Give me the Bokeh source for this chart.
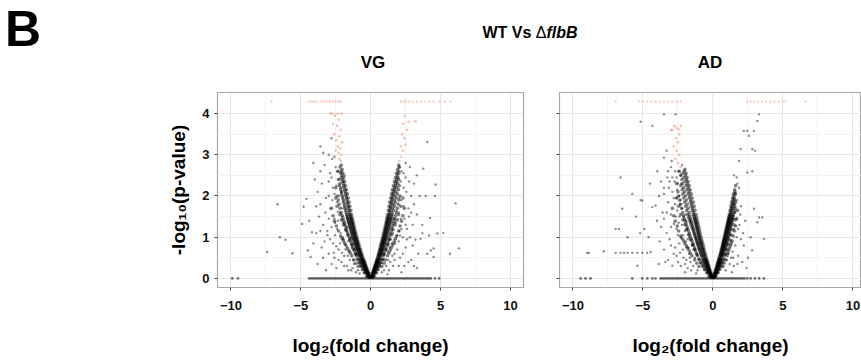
from bokeh.plotting import figure
from bokeh.models import Range1d, FixedTicker, Div
from bokeh.layouts import column, row
from bokeh.embed import file_html
from bokeh.resources import INLINE

# ---------------- data ----------------
x_ticks = [-10, -5, 0, 5, 10]
x_minor = [-7.5, -2.5, 2.5, 7.5]
y_ticks = [0, 1, 2, 3, 4]
y_minor = [0.5, 1.5, 2.5, 3.5]
cap_y = 4.29  # capped -log10(p) row at the top

# VG: dense arms of the volcano, rows of (y, x values)
vg_core = [
    (0.03, [-0.04, -0.08, -0.13, 0.04, 0.07, 0.11]),
    (0.07, [-0.08, -0.13, -0.19, 0.07, 0.12, 0.17]),
    (0.11, [-0.13, -0.18, -0.25, 0.11, 0.16, 0.22]),
    (0.15, [-0.17, -0.23, -0.31, -0.42, 0.15, 0.2, 0.27, 0.38]),
    (0.19, [-0.22, -0.28, -0.36, 0.19, 0.24, 0.31]),
    (0.23, [-0.26, -0.32, -0.41, -0.55, 0.22, 0.28, 0.36, 0.5]),
    (0.27, [-0.31, -0.37, -0.46, 0.26, 0.32, 0.4]),
    (0.31, [-0.35, -0.42, -0.51, -0.7, 0.3, 0.36, 0.45, 0.62]),
    (0.35, [-0.39, -0.46, -0.56, 0.34, 0.4, 0.49]),
    (0.39, [-0.43, -0.5, -0.61, -0.8, 0.38, 0.44, 0.54, 0.72]),
    (0.43, [-0.47, -0.55, -0.66, 0.41, 0.48, 0.58]),
    (0.47, [-0.52, -0.6, -0.72, -0.95, 0.45, 0.52, 0.63, 0.85]),
    (0.52, [-0.57, -0.65, -0.77, 0.49, 0.56, 0.67]),
    (0.58, [-0.62, -0.7, -0.83, -1.05, 0.54, 0.61, 0.73, 0.95]),
    (0.64, [-0.68, -0.76, -0.9, 0.58, 0.66, 0.79]),
    (0.70, [-0.73, -0.82, -0.96, -1.2, 0.63, 0.71, 0.84, 1.1]),
    (0.76, [-0.79, -0.88, -1.02, 0.68, 0.76, 0.9]),
    (0.82, [-0.84, -0.93, -1.08, -1.35, 0.72, 0.8, 0.95, 1.25]),
    (0.88, [-0.89, -0.98, -1.14, 0.77, 0.85, 1.0]),
    (0.94, [-0.94, -1.03, -1.2, -1.5, 0.81, 0.9, 1.06, 1.35]),
    (1.00, [-0.99, -1.08, -1.26, 0.86, 0.95, 1.12]),
    (1.06, [-1.04, -1.13, -1.3, -1.65, 0.9, 0.99, 1.17, 1.5]),
    (1.12, [-1.08, -1.18, -1.36, 0.94, 1.04, 1.22]),
    (1.18, [-1.13, -1.23, -1.42, -1.8, 0.98, 1.08, 1.28, 1.6]),
    (1.24, [-1.17, -1.27, -1.47, 1.02, 1.12, 1.32]),
    (1.30, [-1.21, -1.32, -1.52, -1.95, 1.06, 1.16, 1.37, 1.75]),
    (1.36, [-1.25, -1.36, -1.57, 1.1, 1.2, 1.42]),
    (1.42, [-1.29, -1.4, -1.62, -2.1, 1.13, 1.24, 1.47, 1.9]),
    (1.48, [-1.33, -1.44, -1.67, 1.17, 1.28, 1.51]),
    (1.55, [-1.37, -1.5, -1.72, -2.2, 1.21, 1.33, 1.56, 2.0]),
    (1.65, [-1.43, -1.56, -1.8, 1.26, 1.38, 1.62]),
    (1.75, [-1.49, -1.62, -1.88, -2.4, 1.31, 1.44, 1.7, 2.15]),
    (1.85, [-1.55, -1.68, -1.95, 1.36, 1.5, 1.76]),
    (1.95, [-1.61, -1.74, -2.02, -2.5, 1.42, 1.56, 1.83, 2.3]),
    (2.05, [-1.67, -1.8, -2.1, 1.48, 1.62, 1.9]),
    (2.15, [-1.73, -1.87, -2.15, 1.55, 1.7, 1.98]),
    (2.25, [-1.8, -1.95, -2.25, 1.62, 1.78, 2.05]),
    (2.35, [-1.87, -2.02, 1.7, 1.86]),
    (2.45, [-1.93, -2.1, 1.77, 1.95]),
    (2.55, [-1.99, -2.15, 1.85, 2.02]),
    (2.65, [-2.05, 1.93]),
    (2.75, [-2.1, 2.0]),
]
# VG: outer part of the dense band, rows of (y, x values)
vg_band = [
    (0.05, [-0.1, -0.2, -0.3, 0.09, 0.17, 0.26]),
    (0.13, [-0.2, -0.3, -0.45, 0.18, 0.27, 0.4]),
    (0.21, [-0.3, -0.42, -0.6, 0.26, 0.36, 0.52]),
    (0.29, [-0.4, -0.52, -0.68, -0.9, 0.35, 0.45, 0.6, 0.8]),
    (0.37, [-0.5, -0.62, -0.8, -1.05, 0.44, 0.54, 0.7, 0.95]),
    (0.45, [-0.6, -0.72, -0.9, -1.2, 0.52, 0.62, 0.8, 1.05]),
    (0.55, [-0.7, -0.84, -1.02, -1.35, 0.6, 0.72, 0.9, 1.2]),
    (0.61, [-0.75, -0.9, -1.1, -1.45, 0.65, 0.78, 0.96, 1.3]),
    (0.67, [-0.82, -0.97, -1.18, -1.55, 0.7, 0.83, 1.02, 1.38]),
    (0.73, [-0.88, -1.03, -1.25, -1.65, 0.75, 0.88, 1.08, 1.45]),
    (0.79, [-0.93, -1.1, -1.32, -1.75, 0.8, 0.93, 1.14, 1.55]),
    (0.85, [-0.98, -1.15, -1.38, -1.85, 0.84, 0.98, 1.2, 1.62]),
    (0.91, [-1.03, -1.2, -1.45, -1.95, 0.88, 1.02, 1.25, 1.7]),
    (0.97, [-1.08, -1.26, -1.5, -2.05, 0.93, 1.07, 1.3, 1.78]),
    (1.03, [-1.13, -1.31, -1.57, -2.15, 0.97, 1.12, 1.36, 1.85]),
    (1.09, [-1.18, -1.36, -1.63, 1.01, 1.16, 1.42]),
    (1.15, [-1.22, -1.41, -1.7, -2.3, 1.05, 1.2, 1.47, 2.0]),
    (1.21, [-1.27, -1.46, -1.75, 1.09, 1.25, 1.52]),
    (1.27, [-1.31, -1.5, -1.8, -2.45, 1.13, 1.29, 1.57, 2.1]),
    (1.33, [-1.35, -1.55, -1.86, 1.17, 1.33, 1.62]),
    (1.39, [-1.39, -1.6, -1.92, -2.6, 1.21, 1.37, 1.67, 2.2]),
    (1.45, [-1.43, -1.64, -1.97, 1.25, 1.41, 1.72]),
    (1.52, [-1.48, -1.7, -2.03, -2.7, 1.3, 1.46, 1.78, 2.3]),
    (1.60, [-1.52, -1.75, -2.1, 1.34, 1.5, 1.83]),
    (1.70, [-1.58, -1.82, -2.18, -2.8, 1.39, 1.56, 1.9, 2.4]),
    (1.80, [-1.64, -1.88, -2.25, 1.45, 1.62, 1.96]),
    (1.90, [-1.7, -1.95, -2.32, 1.5, 1.68, 2.02]),
    (2.00, [-1.76, -2.0, -2.4, 1.56, 1.74, 2.1]),
    (2.10, [-1.82, -2.07, 1.62, 1.8]),
    (2.20, [-1.88, -2.13, -2.5, 1.69, 1.87]),
    (2.30, [-1.94, -2.2, 1.76, 1.93]),
    (2.40, [-2.0, -2.25, 1.83, 2.0]),
    (2.50, [-2.05, 1.9]),
    (2.60, [-2.1, -2.35, 1.97]),
    (2.70, [-2.2, 2.05]),
]
# VG: scattered black points (x, y)
vg_halo = [
    (-0.9, 0.2), (-1.2, 0.35), (-0.8, 0.12), (-1.5, 0.45), (-1.1, 0.6), (-1.9, 0.55),
    (-1.35, 0.75), (-2.3, 0.7), (-1.6, 0.9), (-2.0, 1.0), (-2.7, 0.85), (-1.75, 1.15),
    (-2.4, 1.2), (-3.1, 1.05), (-1.95, 1.35), (-2.6, 1.45), (-3.4, 1.3), (-2.2, 1.6),
    (-2.9, 1.7), (-3.7, 1.5), (-2.4, 1.85), (-3.2, 1.95), (-2.1, 2.1), (-2.7, 2.2),
    (-3.5, 2.3), (-2.35, 2.4), (-2.9, 2.55), (-2.5, 2.7), (-3.3, 2.75), (-1.3, 0.25),
    (-1.7, 0.3), (-2.1, 0.4), (-2.6, 0.5), (-3.0, 0.6), (-3.5, 0.75), (-1.4, 1.0),
    (-1.8, 0.7), (-2.2, 0.85), (-3.9, 1.1), (-4.2, 1.12), (-4.3, 0.52), (-4.5, 0.68),
    (-4.6, 1.93), (-3.8, 0.35), (-2.8, 1.25), (-3.6, 1.8), (-4.0, 2.4), (-3.0, 2.0),
    (-2.55, 1.05), (-1.65, 0.55), (-2.0, 1.7), (-2.45, 0.25), (-3.2, 0.2), (-1.85, 2.5),
    (-3.0, 3.0), (-3.6, 3.2), (-2.8, 3.4), (-4.1, 2.8), (-2.6, 2.95),
    (-1.05, 0.15), (-1.4, 0.2), (-1.9, 0.3), (-2.3, 0.45), (-2.8, 0.35), (-1.25, 0.45),
    (-1.55, 0.65), (-2.05, 0.62), (-2.45, 0.78), (-2.9, 0.95), (-3.3, 0.9), (-1.85, 0.82),
    (-1.7, 1.25), (-2.15, 1.1), (-2.55, 1.35), (-3.0, 1.45), (-3.6, 1.15), (-2.05, 1.5),
    (-2.35, 1.62), (-2.75, 1.9), (-3.25, 1.6), (-3.9, 1.75), (-2.25, 2.0), (-2.6, 2.05),
    (-3.0, 2.35), (-2.45, 2.25), (-2.8, 2.45), (-3.6, 2.6), (-2.35, 2.6), (-2.75, 2.9),
    (-3.4, 3.05), (-3.1, 1.15), (-4.1, 0.85), (-3.4, 0.5), (-2.65, 0.62), (-1.95, 0.95),
    (-2.35, 1.4), (-3.8, 2.1), (-1.6, 0.2), (-4.4, 1.4),
    (-6.67, 1.8), (-6.5, 1.0), (-6.1, 0.94), (-7.4, 0.64), (-5.6, 0.61), (-4.8, 1.74),
    (-4.9, 1.32),
    (0.8, 0.15), (1.1, 0.3), (0.9, 0.45), (1.4, 0.4), (1.2, 0.65), (1.7, 0.6),
    (2.1, 0.5), (1.5, 0.85), (2.0, 0.9), (2.5, 0.75), (1.6, 1.1), (2.2, 1.2),
    (2.8, 1.0), (1.8, 1.35), (2.4, 1.45), (3.0, 1.3), (2.0, 1.6), (2.7, 1.7),
    (3.3, 1.55), (2.2, 1.9), (2.9, 2.0), (2.35, 2.2), (3.1, 2.3), (2.5, 2.45),
    (2.2, 2.6), (2.8, 2.7), (1.3, 0.2), (1.6, 0.3), (2.4, 0.3), (3.1, 0.3),
    (2.9, 0.45), (1.9, 1.05), (2.1, 1.04), (3.2, 0.94), (3.57, 0.96), (4.17, 1.04),
    (0.95, 0.2), (1.25, 0.45), (1.55, 0.55), (1.9, 0.7), (2.3, 0.6), (1.35, 0.75),
    (1.75, 0.85), (2.3, 1.0), (1.45, 0.95), (2.05, 1.15), (2.5, 1.3), (1.65, 1.45),
    (2.15, 1.45), (2.75, 1.5), (1.85, 1.65), (2.35, 1.75), (3.1, 1.8), (2.05, 1.95),
    (2.55, 2.1), (2.15, 2.35), (2.75, 2.35), (2.35, 2.55), (2.5, 2.8), (3.3, 2.5),
    (2.7, 0.4), (2.0, 0.3), (3.4, 0.6), (3.7, 1.1), (2.6, 0.95), (3.0, 0.8),
    (1.7, 0.45), (2.9, 1.6), (3.5, 2.0), (2.2, 0.15), (1.2, 0.1), (2.05, 2.7),
    (4.3, 0.68), (4.5, 0.52), (4.64, 2.28), (6.07, 1.82), (4.6, 2.0), (3.93, 2.0),
    (4.24, 1.47), (4.76, 1.09), (5.19, 1.1), (6.31, 0.73), (5.67, 0.6), (4.5, 0.73),
    (4.05, 0.6), (3.69, 1.3), (3.76, 2.66), (4.05, 3.31), (3.3, 0.25), (2.6, 1.2),
]
# VG: red (significant) points (x, y)
vg_red = [
    (-2.15, 2.85), (-2.25, 2.9), (-2.1, 3.0), (-2.3, 3.05), (-2.2, 3.15), (-2.35, 3.2),
    (-2.05, 3.3), (-2.45, 3.35), (-2.25, 3.45), (-2.6, 3.5), (-2.15, 3.6), (-2.4, 3.7),
    (-2.7, 3.75), (-2.3, 3.85), (-2.55, 3.95), (-2.35, 4.0), (-2.75, 4.0), (-2.9, 4.0),
    (-2.1, 4.0), (-2.5, 3.1),
    (2.05, 2.85), (2.2, 2.95), (2.3, 3.1), (2.15, 3.2), (2.5, 3.25), (2.4, 3.4),
    (2.25, 3.5), (2.6, 3.6), (2.35, 3.75), (2.7, 3.8), (3.2, 3.81), (2.45, 3.95),
]
vg_cap_x = [-7.1, -4.4, -4.2, -4.0, -3.8, -3.5, -3.3, -3.1, -2.9, -2.7, -2.5, -2.3, -2.15,
            2.15, 2.35, 2.5, 2.75, 3.0, 3.3, 3.6, 3.9, 4.2, 4.5, 4.9, 5.3, 5.7]
vg_zero_x = [-9.9, -9.5, -4.4, -4.25, -4.1, -3.95, -3.8, -3.65, -3.5, -3.35, -3.2, -3.05,
             -2.9, -2.75, -2.6, -2.45, -2.3, -2.15, -2.0, -1.85, -1.7, -1.55, -1.4, -1.25,
             -1.1, -0.95, -0.8, -0.65, -0.5, -0.35, -0.2, -0.05, 0.1, 0.25, 0.4, 0.55, 0.7,
             0.85, 1.0, 1.15, 1.3, 1.45, 1.6, 1.75, 1.9, 2.05, 2.2, 2.35, 2.5, 2.65, 2.8,
             2.95, 3.1, 3.25, 3.4, 3.55, 3.7, 3.85, 4.0, 4.15, 4.3, 4.6, 4.9]

# AD
ad_core = [
    (0.03, [-0.04, -0.08, -0.12, 0.04, 0.07, 0.1]),
    (0.07, [-0.08, -0.13, -0.18, 0.07, 0.11, 0.15]),
    (0.11, [-0.12, -0.17, -0.24, 0.1, 0.15, 0.2]),
    (0.15, [-0.16, -0.22, -0.3, -0.42, 0.14, 0.19, 0.25, 0.35]),
    (0.19, [-0.2, -0.26, -0.35, 0.17, 0.22, 0.3]),
    (0.23, [-0.24, -0.3, -0.4, -0.58, 0.21, 0.26, 0.34, 0.48]),
    (0.27, [-0.27, -0.34, -0.45, 0.24, 0.3, 0.38]),
    (0.31, [-0.31, -0.38, -0.5, -0.72, 0.28, 0.34, 0.42, 0.58]),
    (0.35, [-0.34, -0.42, -0.55, 0.31, 0.37, 0.46]),
    (0.39, [-0.38, -0.46, -0.6, -0.85, 0.35, 0.41, 0.5, 0.68]),
    (0.43, [-0.41, -0.5, -0.65, 0.38, 0.44, 0.54]),
    (0.47, [-0.45, -0.54, -0.7, -1.0, 0.41, 0.48, 0.58, 0.78]),
    (0.52, [-0.49, -0.59, -0.76, 0.45, 0.52, 0.63]),
    (0.58, [-0.53, -0.64, -0.82, -1.15, 0.5, 0.57, 0.68, 0.88]),
    (0.64, [-0.58, -0.69, -0.88, 0.55, 0.62, 0.73]),
    (0.70, [-0.62, -0.74, -0.95, -1.3, 0.59, 0.67, 0.79, 1.0]),
    (0.76, [-0.67, -0.79, -1.01, 0.64, 0.72, 0.84]),
    (0.82, [-0.71, -0.84, -1.07, -1.45, 0.68, 0.76, 0.89, 1.1]),
    (0.88, [-0.76, -0.89, -1.13, 0.72, 0.8, 0.94]),
    (0.94, [-0.8, -0.94, -1.2, -1.6, 0.76, 0.85, 0.99, 1.2]),
    (1.00, [-0.85, -0.99, -1.26, 0.8, 0.89, 1.04]),
    (1.06, [-0.89, -1.04, -1.32, -1.75, 0.84, 0.93, 1.08, 1.3]),
    (1.12, [-0.93, -1.08, -1.38, 0.88, 0.97, 1.12]),
    (1.18, [-0.97, -1.13, -1.44, -1.9, 0.92, 1.01, 1.17, 1.4]),
    (1.24, [-1.01, -1.17, -1.5, 0.96, 1.05, 1.21]),
    (1.30, [-1.05, -1.22, -1.56, -2.0, 1.0, 1.09, 1.26, 1.5]),
    (1.36, [-1.09, -1.26, -1.62, 1.04, 1.13, 1.3]),
    (1.42, [-1.13, -1.3, -1.68, -2.15, 1.08, 1.17, 1.35, 1.6]),
    (1.48, [-1.17, -1.35, -1.74, 1.12, 1.21, 1.39]),
    (1.55, [-1.21, -1.4, -1.8, -2.3, 1.16, 1.26, 1.44]),
    (1.65, [-1.28, -1.48, -1.88, 1.22, 1.32, 1.5, 1.75]),
    (1.75, [-1.34, -1.55, -1.95, -2.45, 1.28, 1.38, 1.56]),
    (1.85, [-1.41, -1.62, -2.02, 1.34, 1.44, 1.62]),
    (1.95, [-1.48, -1.7, -2.1, -2.6, 1.4, 1.52]),
    (2.05, [-1.55, -1.78, -2.15, 1.46, 1.6]),
    (2.15, [-1.62, -1.85, -2.2, 1.55]),
    (2.25, [-1.7, -1.92, -2.3, 1.62]),
    (2.35, [-1.78, -2.0]),
    (2.45, [-1.85, -2.08]),
    (2.55, [-1.92, -2.15]),
    (2.65, [-2.0]),
]
ad_band = [
    (0.05, [-0.1, -0.19, -0.3, 0.08, 0.15, 0.22]),
    (0.13, [-0.19, -0.29, -0.44, 0.16, 0.24, 0.34]),
    (0.21, [-0.29, -0.41, -0.6, 0.24, 0.33, 0.45]),
    (0.29, [-0.38, -0.52, -0.72, -1.0, 0.32, 0.41, 0.55, 0.72]),
    (0.37, [-0.47, -0.62, -0.85, -1.15, 0.39, 0.48, 0.62, 0.8]),
    (0.45, [-0.55, -0.72, -0.97, -1.3, 0.46, 0.55, 0.7, 0.9]),
    (0.55, [-0.64, -0.83, -1.1, -1.5, 0.53, 0.63, 0.78, 1.0]),
    (0.61, [-0.69, -0.88, -1.17, -1.6, 0.58, 0.67, 0.83, 1.05]),
    (0.67, [-0.74, -0.94, -1.24, -1.7, 0.62, 0.72, 0.88, 1.12]),
    (0.73, [-0.79, -1.0, -1.3, -1.8, 0.66, 0.76, 0.92, 1.18]),
    (0.79, [-0.84, -1.05, -1.37, -1.9, 0.7, 0.8, 0.97, 1.25]),
    (0.85, [-0.88, -1.1, -1.43, -2.0, 0.74, 0.84, 1.01, 1.3]),
    (0.91, [-0.93, -1.15, -1.5, -2.1, 0.78, 0.88, 1.05, 1.36]),
    (0.97, [-0.97, -1.2, -1.56, -2.2, 0.82, 0.92, 1.09]),
    (1.03, [-1.01, -1.25, -1.62, -2.3, 0.86, 0.96, 1.13, 1.45]),
    (1.09, [-1.05, -1.3, -1.68, 0.9, 1.0, 1.17]),
    (1.15, [-1.09, -1.35, -1.74, -2.45, 0.94, 1.04, 1.21, 1.55]),
    (1.21, [-1.13, -1.4, -1.8, 0.98, 1.08, 1.25]),
    (1.27, [-1.17, -1.45, -1.86, -2.55, 1.02, 1.12, 1.29, 1.62]),
    (1.33, [-1.21, -1.5, -1.92, 1.06, 1.16, 1.33]),
    (1.39, [-1.25, -1.55, -1.98, -2.7, 1.1, 1.2, 1.37]),
    (1.45, [-1.29, -1.6, -2.04, 1.14, 1.24, 1.42, 1.7]),
    (1.52, [-1.34, -1.65, -2.1, -2.8, 1.19, 1.29, 1.46]),
    (1.60, [-1.39, -1.7, -2.16, 1.24, 1.34, 1.52]),
    (1.70, [-1.45, -1.77, -2.24, -2.9, 1.3, 1.41, 1.58]),
    (1.80, [-1.51, -1.84, -2.3, 1.37, 1.48]),
    (1.90, [-1.58, -1.9, -2.38, 1.43, 1.55]),
    (2.00, [-1.64, -1.97, -2.45, 1.5]),
    (2.10, [-1.7, -2.03, -2.5, 1.57]),
    (2.20, [-1.76, -2.1]),
    (2.30, [-1.83, -2.17, -2.6]),
    (2.40, [-1.9, -2.22]),
    (2.50, [-1.96, -2.3]),
    (2.60, [-2.05, -2.4]),
]
ad_halo = [
    (-1.1, 0.2), (-1.4, 0.3), (-1.8, 0.25), (-2.3, 0.3), (-2.9, 0.31), (-3.86, 0.35),
    (-1.3, 0.5), (-1.7, 0.6), (-2.1, 0.5), (-2.6, 0.55), (-3.2, 0.45), (-1.5, 0.8),
    (-1.9, 0.75), (-2.4, 0.85), (-3.0, 0.8), (-3.5, 0.7), (-1.7, 1.0), (-2.3, 1.0),
    (-2.79, 1.32), (-2.0, 1.15), (-2.6, 1.2), (-3.3, 1.1), (-3.7, 1.25), (-1.9, 1.4),
    (-2.4, 1.5), (-3.0, 1.55), (-3.5, 1.45), (-2.2, 1.7), (-2.7, 1.8), (-3.2, 1.85),
    (-4.1, 1.77), (-3.5, 2.05), (-2.4, 2.0), (-2.9, 2.1), (-2.5, 2.3), (-3.1, 2.35),
    (-3.26, 2.45), (-2.3, 2.5), (-2.7, 2.6), (-3.98, 2.6), (-3.5, 2.2), (-2.2, 2.75),
    (-3.5, 2.93), (-2.9, 2.45), (-1.6, 0.4), (-2.0, 0.35), (-2.5, 0.4), (-1.4, 0.7),
    (-1.8, 0.95), (-2.2, 1.3), (-1.95, 1.55), (-2.6, 1.95), (-3.0, 2.7), (-2.3, 1.9),
    (-4.33, 1.73), (-3.8, 0.9), (-3.6, 1.6), (-3.3, 3.1), (-5.17, 3.8), (-4.33, 3.7),
    (-3.5, 3.98), (-2.67, 3.98), (-6.6, 2.45), (-5.76, 2.05), (-5.17, 1.9), (-6.48, 1.69),
    (-5.05, 1.89), (-6.95, 1.2), (-6.71, 1.2), (-6.1, 1.0), (-8.98, 0.62), (-8.86, 0.62),
    (-7.8, 0.66), (-6.95, 0.62), (-6.6, 0.62), (-6.35, 0.62), (-6.1, 0.62), (-5.76, 0.62),
    (-5.4, 0.62), (-5.05, 0.62), (-4.69, 0.62), (-4.45, 0.64), (-5.4, 0.31), (-4.9, 1.2),
    (-4.6, 1.0), (-5.5, 1.5), (-4.5, 2.3), (-5.2, 1.1),
    (-1.2, 0.12), (-1.55, 0.2), (-2.0, 0.15), (-1.9, 0.45), (-2.35, 0.62), (-2.8, 0.6),
    (-1.65, 0.5), (-2.15, 0.7), (-2.7, 0.75), (-1.95, 0.9), (-2.5, 1.05), (-3.1, 0.95),
    (-2.15, 1.05), (-2.45, 1.35), (-3.0, 1.25), (-2.1, 1.5), (-2.55, 1.65), (-3.3, 1.6),
    (-2.35, 1.8), (-2.8, 1.95), (-3.15, 2.2), (-2.55, 2.15), (-2.75, 2.35), (-2.45, 2.6),
    (-2.95, 2.85), (-3.2, 2.6), (-2.6, 2.45), (-3.7, 2.35), (-2.25, 2.3), (-1.85, 1.2),
    (-1.75, 0.75), (-3.4, 0.4), (-4.0, 1.4), (-3.85, 2.0), (-2.65, 1.5),
    (0.9, 0.2), (1.2, 0.35), (1.5, 0.3), (1.1, 0.6), (1.4, 0.65), (1.8, 0.55),
    (1.3, 0.9), (1.7, 1.0), (2.2, 0.8), (1.5, 1.2), (1.9, 1.3), (1.6, 1.6),
    (2.0, 1.75), (1.7, 1.9), (1.62, 2.05), (1.86, 2.2), (2.1, 0.4), (2.8, 0.68),
    (3.64, 0.96), (3.17, 1.36), (3.52, 1.48), (2.93, 1.69), (3.29, 1.48), (2.69, 1.0),
    (2.3, 1.4), (2.5, 0.5), (3.29, 3.98), (3.17, 3.82), (2.2, 3.58), (2.45, 3.58),
    (2.93, 3.58), (2.57, 3.46), (1.98, 3.14), (2.81, 3.14), (3.0, 3.1), (1.86, 2.85),
    (2.45, 2.57), (2.81, 2.6), (1.7, 2.45),
    (1.0, 0.45), (1.3, 0.5), (1.6, 0.8), (1.25, 1.05), (1.45, 1.45), (1.8, 1.2),
    (1.35, 0.15), (1.75, 0.35), (2.4, 0.25), (1.55, 1.8), (1.95, 1.55), (2.15, 1.1),
    (1.45, 0.5), (2.0, 0.95), (1.75, 2.3), (1.5, 2.5),
]
ad_red = [
    (-2.3, 2.7), (-2.5, 2.8), (-2.7, 2.9), (-2.4, 3.0), (-2.6, 3.1), (-2.8, 3.2),
    (-2.5, 3.3), (-2.65, 3.4), (-2.4, 3.5), (-2.9, 3.6), (-2.6, 3.65), (-2.75, 3.7),
    (-2.45, 3.62), (-3.0, 3.6), (-2.3, 3.7),
]
ad_cap_x = [-6.95, -5.29, -5.0, -4.7, -4.4, -4.1, -3.8, -3.5, -3.2, -2.9, -2.6, -2.3,
            2.45, 2.7, 2.95, 3.2, 3.5, 3.8, 4.1, 4.4, 4.7, 5.0, 5.19, 6.62]
ad_zero_x = [-9.45, -9.1, -8.74, -5.76, -5.05, -4.69, -4.33, -4.1, -3.74, -3.6, -3.45,
             -3.3, -3.15, -3.0, -2.85, -2.7, -2.55, -2.4, -2.25, -2.1, -1.95, -1.8, -1.65,
             -1.5, -1.35, -1.2, -1.05, -0.9, -0.75, -0.6, -0.45, -0.3, -0.15, 0.0, 0.15,
             0.3, 0.45, 0.6, 0.75, 0.9, 1.05, 1.2, 1.35, 1.5, 1.65, 1.8, 1.95, 2.1, 2.25,
             2.45, 2.69, 3.0, 3.3, 3.64]

FONT = "Liberation Sans"
BLACK = "#000000"
RED = "#ee8a72"


def expand_rows(*row_sets):
    xs, ys = [], []
    for rows in row_sets:
        for y, row_x in rows:
            for x in row_x:
                xs.append(x)
                ys.append(y)
    return xs, ys


def make_panel(core, band, halo, red, cap_x, zero_x, x_end, width, mbl, mbr, show_ylab):
    p = figure(width=width, height=274, x_range=Range1d(-10.96, x_end),
               y_range=Range1d(-0.22, 4.51), output_backend="svg",
               toolbar_location=None, min_border_left=mbl, min_border_right=mbr,
               min_border_top=6, min_border_bottom=73)
    p.background_fill_color = "white"
    p.border_fill_color = "white"
    p.outline_line_color = "#a8a8a8"
    p.outline_line_width = 1.2

    p.xaxis.ticker = FixedTicker(ticks=x_ticks, minor_ticks=x_minor)
    p.yaxis.ticker = FixedTicker(ticks=y_ticks, minor_ticks=y_minor)
    for ax in (p.xaxis[0], p.yaxis[0]):
        ax.axis_line_color = None
        ax.major_tick_line_color = "#444444"
        ax.major_tick_out = 3
        ax.major_tick_in = 0
        ax.minor_tick_line_color = None
        ax.major_label_text_font = FONT
        ax.major_label_text_font_style = "bold"
        ax.major_label_text_font_size = "13px"
        ax.major_label_text_color = "#111111"
        ax.axis_label_text_font = FONT
        ax.axis_label_text_font_style = "bold"
        ax.axis_label_text_font_size = "19px"
        ax.axis_label_text_color = "#000000"
    p.xaxis.major_label_standoff = 9
    p.xaxis.axis_label = "log\u2082(fold change)"
    p.xaxis.axis_label_standoff = 22
    p.yaxis.major_label_standoff = 4
    if show_ylab:
        p.yaxis.axis_label = "-log\u2081\u2080(p-value)"
        p.yaxis.axis_label_standoff = 10
    else:
        p.yaxis.major_label_overrides = {t: "" for t in y_ticks}

    for g in (p.xgrid[0], p.ygrid[0]):
        g.grid_line_color = "#e6e6e6"
        g.grid_line_width = 1
        g.minor_grid_line_color = "#f3f3f3"
        g.minor_grid_line_width = 1

    cx, cy = expand_rows(core, band)
    hx = [a for a, b in halo]
    hy = [b for a, b in halo]
    rx = [a for a, b in red]
    ry = [b for a, b in red]
    p.scatter(zero_x, [0] * len(zero_x), size=2.8, color=BLACK, alpha=0.55, line_color=None)
    p.scatter(hx, hy, size=2.4, color=BLACK, alpha=0.45, line_color=None)
    p.scatter(cx, cy, size=3.6, color=BLACK, alpha=0.5, line_color=None)
    p.scatter(cap_x, [cap_y] * len(cap_x), size=2.4, color=RED, alpha=0.4, line_color=None)
    p.scatter(rx, ry, size=2.6, color=RED, alpha=0.55, line_color=None)
    return p


left = make_panel(vg_core, vg_band, vg_halo, vg_red, vg_cap_x, vg_zero_x, 10.93, 533, 217, 10, True)
right = make_panel(ad_core, ad_band, ad_halo, ad_red, ad_cap_x, ad_zero_x, 10.61, 328, 26, 0, False)

header_html = (
    "<div style=\"position:relative;width:861px;height:86px;"
    "font-family:'Liberation Sans',Arial,sans-serif;font-weight:bold;color:#000;\">"
    "<div style=\"position:absolute;left:5px;top:0px;font-size:50px;line-height:normal;\">B</div>"
    "<div style=\"position:absolute;left:430px;top:25px;width:200px;text-align:center;font-size:16px;line-height:1;\">"
    "WT Vs <span style=\"font-weight:normal\">\u0394</span><i>flbB</i></div>"
    "<div style=\"position:absolute;left:323px;top:53.5px;width:100px;text-align:center;font-size:17px;line-height:1;\">VG</div>"
    "<div style=\"position:absolute;left:660px;top:53.5px;width:100px;text-align:center;font-size:17px;line-height:1;\">AD</div>"
    "</div>"
)
header = Div(text=header_html, width=861, height=86, margin=(0, 0, 0, 0),
             styles={"overflow": "visible"})

layout = column(header, row(left, right, spacing=0), spacing=0)

open("out.html", "w").write(file_html(layout, INLINE))
